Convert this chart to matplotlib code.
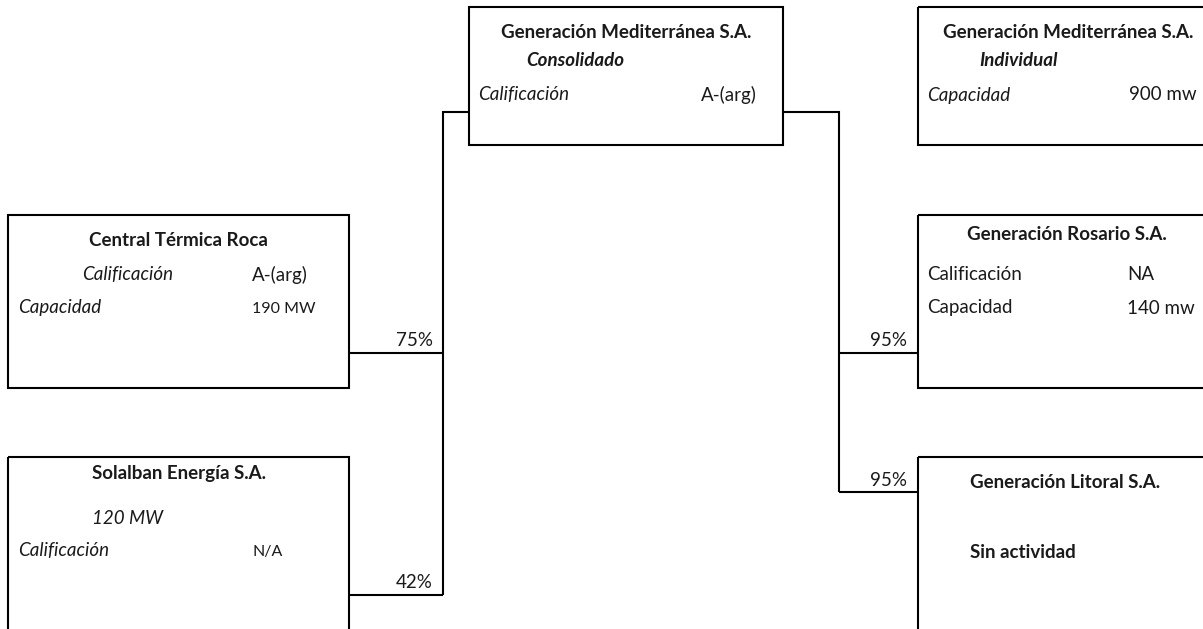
import matplotlib
matplotlib.use("Agg")
import matplotlib.pyplot as plt
from matplotlib.patches import Rectangle

plt.rcParams['font.family'] = ['Lato', 'DejaVu Sans']

# ---- data ----
entities = ["Generación Mediterránea S.A.", "Generación Mediterránea S.A.",
            "Central Térmica Roca", "Solalban Energía S.A.",
            "Generación Rosario S.A.", "Generación Litoral S.A."]
subtitles = ["Consolidado", "Individual", None, None, None, None]
ownership_left = ["75%", "42%"]      # Roca, Solalban
ownership_right = ["95%", "95%"]     # Rosario, Litoral
ratings = ["A-(arg)", None, "A-(arg)", "N/A", "NA", None]
capacities = [None, "900 mw", "190 MW", "120 MW", "140 mw", None]
status_litoral = "Sin actividad"

# ---- layout (pixels) ----
W, H = 1203, 629
fig = plt.figure(figsize=(W / 100, H / 100), dpi=100)
ax = fig.add_axes([0, 0, 1, 1])
ax.set_xlim(0, W)
ax.set_ylim(H, 0)
ax.axis('off')

LW = 1.5
FS = 13.5
FS_SMALL = 11.5

def box(x0, y0, x1, y1):
    ax.add_patch(Rectangle((x0, y0), x1 - x0, y1 - y0, fill=False,
                           edgecolor='black', linewidth=LW, clip_on=True))

def line(xs, ys):
    ax.plot(xs, ys, color='black', linewidth=LW, solid_capstyle='butt',
            solid_joinstyle='miter')

def txt(x, y, s, ha='left', weight='normal', style='normal', fs=FS):
    ax.text(x, y, s, ha=ha, va='center', fontsize=fs, fontweight=weight,
            fontstyle=style, color='#1a1a1a')

# boxes
box(469, 7, 783, 145)          # center
box(918, 7, 1215, 145)         # top right
box(8, 215, 349, 388)          # Roca
box(8, 457, 349, 640)          # Solalban
box(918, 215, 1215, 388)       # Rosario
box(918, 457, 1215, 640)       # Litoral

# connectors left
line([469, 443, 443], [112, 112, 595])
line([349, 443], [353, 353])
line([349, 443], [595, 595])
# connectors right
line([783, 839, 839], [112, 112, 492])
line([839, 918], [353, 353])
line([839, 918], [492, 492])

# percentages
txt(433, 341, ownership_left[0], ha='right')
txt(433, 583, ownership_left[1], ha='right')
txt(907, 341, ownership_right[0], ha='right')
txt(907, 481, ownership_right[1], ha='right')

# center box
txt(626, 32, entities[0], ha='center', weight='bold')
txt(526, 60, subtitles[0], weight='bold', style='italic')
txt(478, 95, "Calificación", style='italic')
txt(757, 95, ratings[0], ha='right')

# top-right box
txt(943, 32, entities[1], weight='bold')
txt(979, 60, subtitles[1], weight='bold', style='italic')
txt(927, 95, "Capacidad", style='italic')
txt(1197, 95, capacities[1], ha='right')

# Roca
txt(178, 241, entities[2], ha='center', weight='bold')
txt(82, 275, "Calificación", style='italic')
txt(252, 275, ratings[2])
txt(18, 308, "Capacidad", style='italic')
txt(252, 309, capacities[2], fs=FS_SMALL)

# Solalban
txt(92, 474, entities[3], weight='bold')
txt(92, 518, capacities[3], style='italic')
txt(18, 551, "Calificación", style='italic')
txt(252, 552, ratings[3], fs=FS_SMALL)

# Rosario
txt(1067, 234, entities[4], ha='center', weight='bold')
txt(927, 275, "Calificación")
txt(1127, 275, ratings[4])
txt(927, 308, "Capacidad")
txt(1127, 308, capacities[4])

# Litoral
txt(970, 483, entities[5], weight='bold')
txt(970, 553, status_litoral, weight='bold')

fig.savefig("out.png", dpi=100)
